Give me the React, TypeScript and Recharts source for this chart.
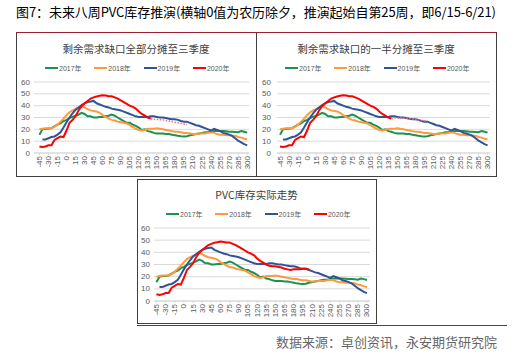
import { LineChart, Line, XAxis, YAxis, CartesianGrid } from 'recharts';

// x axis: days from lunar new year's eve
const xs = [
  -45, -40, -35, -30, -25, -20, -15, -10, -5, 0,
  5, 10, 15, 20, 25, 30, 35, 40, 45, 50,
  55, 60, 65, 70, 75, 80, 85, 90, 95, 100,
  105, 110, 115, 120, 125, 130, 135, 140, 145, 150,
  155, 160, 165, 170, 175, 180, 185, 190, 195, 200,
  205, 210, 215, 220, 225, 230, 235, 240, 245, 250,
  255, 260, 265, 270, 275, 280, 285, 290, 295, 300,
];

const y2017 = [
  15.5, 20, 20.5, 20.5, 21, 22.5, 24, 25, 27, 28,
  29.5, 30.5, 31.5, 32.5, 34, 33, 31, 31, 30, 30,
  30.5, 30.5, 31, 31.5, 32.5, 31.5, 30, 28.5, 27, 25.5,
  25.5, 24, 23, 21.5, 19.5, 20, 18.5, 18, 17, 16.5,
  16.5, 16.5, 16, 16, 15.5, 15, 14.5, 14.2, 14, 14.2,
  15, 15.5, 16, 16.5, 17, 17.5, 17.5, 18, 18.5, 18.5,
  18.5, 18.5, 18.3, 18, 18, 17.8, 17.5, 18.5, 18, 17.2,
];

const y2018 = [
  20, 20.5, 21, 21, 21, 22, 24, 26.5, 29, 32,
  34.5, 36, 37, 38.5, 39.5, 38.5, 37, 36, 35.5, 35,
  34, 32, 30.5, 29, 28, 27.5, 26.5, 26, 25.5, 25,
  23.5, 22, 20.5, 19.5, 19, 19.5, 20.5, 20.5, 20.5, 21,
  20.5, 20, 19.5, 19, 18.5, 18, 18, 17.5, 17, 17,
  16.5, 16, 16, 16.5, 16.5, 16.5, 17, 17.5, 17, 16,
  15.5, 15.5, 15, 15, 14.5, 14.5, 13.5, 13, 12, 11.5,
];

const y2019 = [
  null, 11.5, 11.5, 12.5, 13.5, 14, 15.5, 17.5, 21.5, 26,
  30, 33.5, 36.5, 38.5, 40.5, 42, 43, 43.5, 44, 42,
  41, 40, 39, 38.5, 37.5, 37, 36.5, 36, 35, 34,
  33, 32, 31, 30.5, 30.5, 30.5, 30.5, 31, 31, 30.5,
  30, 30, 29.5, 29, 28.5, 28.5, 28, 27, 26.5, 26.5,
  25.5, 24.5, 23.5, 23, 22, 21, 20, 19, 20.5, 19.5,
  18.5, 17, 16.5, 15.5, 14.5, 12.5, 10.5, 9, 7.5, 6.5,
];

// 2020 actual up to the start of the projection (day 140)
const y2020 = [
  5.5, 5, 5.5, 6.5, 6.5, 11, 12.5, 14, 13.5, 19,
  25.5, 28, 31, 36, 39.5, 42, 44, 46, 47, 47.8,
  48.3, 48.8, 48.5, 48, 48, 47, 46, 44.5, 43, 41.5,
  40, 39, 37.5, 35, 33, 31.5, 30, 29, null, null,
  null, null, null, null, null, null, null, null, null, null,
  null, null, null, null, null, null, null, null, null, null,
  null, null, null, null, null, null, null, null, null, null,
];

// 2020 actual after day 140
const y2020Later = [
  null, null, null, null, null, null, null, null, null, null,
  null, null, null, null, null, null, null, null, null, null,
  null, null, null, null, null, null, null, null, null, null,
  null, null, null, null, null, null, null, 29, 28.5, 28.5,
  28, 27.5, 26.5, 26, 25.5, 26, 26, 26, 26.5, 26.5,
  26, null, null, null, null, null, null, null, null, null,
  null, null, null, null, null, null, null, null, null, null,
];

// projection: whole gap into Q3
const projAll = [
  null, null, null, null, null, null, null, null, null, null,
  null, null, null, null, null, null, null, null, null, null,
  null, null, null, null, null, null, null, null, null, null,
  null, null, null, null, null, null, null, 29, 28.5, 28.3,
  28.2, 28, 27.5, 27, 26.5, 26, 25.5, 25, 24.5, 24,
  null, null, null, null, null, null, null, null, null, null,
  null, null, null, null, null, null, null, null, null, null,
];

// projection: half the gap into Q3
const projHalf = [
  null, null, null, null, null, null, null, null, null, null,
  null, null, null, null, null, null, null, null, null, null,
  null, null, null, null, null, null, null, null, null, null,
  null, null, null, null, null, null, null, 29, 29.5, 29.5,
  29.5, 29.5, 29.3, 29, 28.7, 28.5, 28, 27.5, 27.2, 27,
  null, null, null, null, null, null, null, null, null, null,
  null, null, null, null, null, null, null, null, null, null,
];

const xTicks = [-45, -30, -15, 0, 15, 30, 45, 60, 75, 90, 105, 120, 135, 150, 165, 180, 195, 210, 225, 240, 255, 270, 285, 300];
const yTicks = [0, 10, 20, 30, 40, 50, 60];
const legendNames = ['2017年', '2018年', '2019年', '2020年'];
const COLORS = ['#1E9150', '#FF9A3C', '#2F5597', '#FF0000'];

const FONT = "'Liberation Sans', Arial, 'Noto Sans CJK SC', sans-serif";
const CJK = "'Noto Sans CJK SC', sans-serif";

function XTick({ x, y, payload }: any) {
  return (
    <text
      x={x}
      y={y}
      transform={`rotate(-90 ${x} ${y})`}
      textAnchor="end"
      dominantBaseline="central"
      fontSize={8}
      fontFamily={FONT}
      fill="#595959"
    >
      {payload.value}
    </text>
  );
}

function YTick({ x, y, payload }: any) {
  return (
    <text x={x} y={y} textAnchor="end" dominantBaseline="central" fontSize={8} fontFamily={FONT} fill="#595959">
      {payload.value}
    </text>
  );
}

interface PanelProps {
  left: number;
  top: number;
  width: number;
  height: number;
  title: string;
  mode: 'all' | 'half' | 'actual';
  yWidth: number;
  yGap: number;
  marginTop: number;
  marginRight: number;
  xHeight: number;
  xDomain: [number, number];
}

function Panel({ left, top, width, height, title, mode, yWidth, yGap, marginTop, marginRight, xHeight, xDomain }: PanelProps) {
  const rows = xs.map((x, i) => ({
    x,
    a: y2017[i],
    b: y2018[i],
    c: y2019[i],
    d: mode === 'actual' ? (y2020[i] ?? y2020Later[i]) : y2020[i],
    p: mode === 'all' ? projAll[i] : mode === 'half' ? projHalf[i] : null,
  }));

  return (
    <div style={{ position: 'absolute', left, top, width, height }}>
      <div
        style={{
          position: 'absolute', left: 0, top: 9, width, textAlign: 'center',
          fontSize: 10.5, lineHeight: '14px', color: '#404040', fontFamily: CJK,
        }}
      >
        {title}
      </div>
      {legendNames.map((name, i) => (
        <div
          key={name}
          style={{ position: 'absolute', left: 29 + i * 49.3, top: 29, height: 12, display: 'flex', alignItems: 'center' }}
        >
          <div style={{ width: 13, height: 2, background: COLORS[i], marginRight: 1 }} />
          <span style={{ fontSize: 7, color: '#595959', fontFamily: FONT }}>{name}</span>
        </div>
      ))}
      <LineChart
        width={width}
        height={height}
        data={rows}
        margin={{ top: marginTop, right: marginRight, bottom: 0, left: 0 }}
        style={{ position: 'absolute', left: 0, top: 0 }}
      >
        <CartesianGrid vertical={false} stroke="#D9D9D9" />
        <XAxis
          dataKey="x"
          type="number"
          domain={xDomain}
          ticks={xTicks}
          interval={0}
          height={xHeight}
          tick={<XTick />}
          tickSize={2}
          tickMargin={1}
          stroke="#D9D9D9"
          allowDataOverflow
        />
        <YAxis
          domain={[0, 60]}
          ticks={yTicks}
          interval={0}
          width={yWidth}
          axisLine={false}
          tickLine={false}
          tickSize={0}
          tickMargin={yGap}
          tick={<YTick />}
        />
        <Line dataKey="a" stroke={COLORS[0]} strokeWidth={2} dot={false} isAnimationActive={false} />
        <Line dataKey="b" stroke={COLORS[1]} strokeWidth={2} dot={false} isAnimationActive={false} />
        <Line dataKey="c" stroke={COLORS[2]} strokeWidth={2} dot={false} isAnimationActive={false} />
        <Line dataKey="d" stroke={COLORS[3]} strokeWidth={2} dot={false} isAnimationActive={false} />
        {mode !== 'actual' && (
          <Line
            dataKey="p"
            stroke="#FF6E6E"
            strokeWidth={1.5}
            strokeDasharray="1.5 1.5"
            dot={false}
            isAnimationActive={false}
          />
        )}
      </LineChart>
    </div>
  );
}

export default function App() {
  const border = '#404040';
  const red = '#9E1E32';
  return (
    <div style={{ position: 'absolute', left: 0, top: 0, width: 515, height: 358, background: '#fff', overflow: 'hidden' }}>
      <svg width={515} height={30} style={{ position: 'absolute', left: 0, top: 0 }}>
        <text x={16} y={17} fontSize={13} fontFamily={CJK} fill="#000" textLength={480} lengthAdjust="spacing">
          图7：未来八周PVC库存推演(横轴0值为农历除夕，推演起始自第25周，即6/15-6/21)
        </text>
      </svg>
      <div style={{ position: 'absolute', left: 16, top: 32, width: 481, height: 1, background: red }} />

      <Panel
        left={16} top={33} width={240} height={143}
        title="剩余需求缺口全部分摊至三季度" mode="all"
        yWidth={18} yGap={4} marginTop={49} marginRight={7} xHeight={23} xDomain={[-54, 303]}
      />
      <Panel
        left={256} top={33} width={240} height={143}
        title="剩余需求缺口的一半分摊至三季度" mode="half"
        yWidth={21} yGap={6} marginTop={49} marginRight={6} xHeight={23} xDomain={[-50, 304]}
      />
      <Panel
        left={137} top={179} width={239} height={144}
        title="PVC库存实际走势" mode="actual"
        yWidth={17} yGap={4} marginTop={49} marginRight={6} xHeight={22} xDomain={[-49, 305]}
      />

      {/* panel frames */}
      <div style={{ position: 'absolute', left: 16, top: 33, width: 1, height: 144, background: border }} />
      <div style={{ position: 'absolute', left: 256, top: 33, width: 1, height: 144, background: border }} />
      <div style={{ position: 'absolute', left: 496, top: 33, width: 1, height: 144, background: border }} />
      <div style={{ position: 'absolute', left: 16, top: 176, width: 481, height: 1, background: border }} />
      <div style={{ position: 'absolute', left: 137, top: 179, width: 240, height: 1, background: border }} />
      <div style={{ position: 'absolute', left: 137, top: 179, width: 1, height: 145, background: border }} />
      <div style={{ position: 'absolute', left: 376, top: 179, width: 1, height: 145, background: border }} />
      <div style={{ position: 'absolute', left: 137, top: 323, width: 240, height: 1, background: border }} />
      <div style={{ position: 'absolute', left: 137, top: 325, width: 370, height: 1, background: red }} />

      <div
        style={{
          position: 'absolute', left: 276, top: 334, fontSize: 13, lineHeight: '16px',
          color: '#666', fontFamily: CJK, whiteSpace: 'nowrap',
        }}
      >
        数据来源：卓创资讯，永安期货研究院
      </div>
    </div>
  );
}
